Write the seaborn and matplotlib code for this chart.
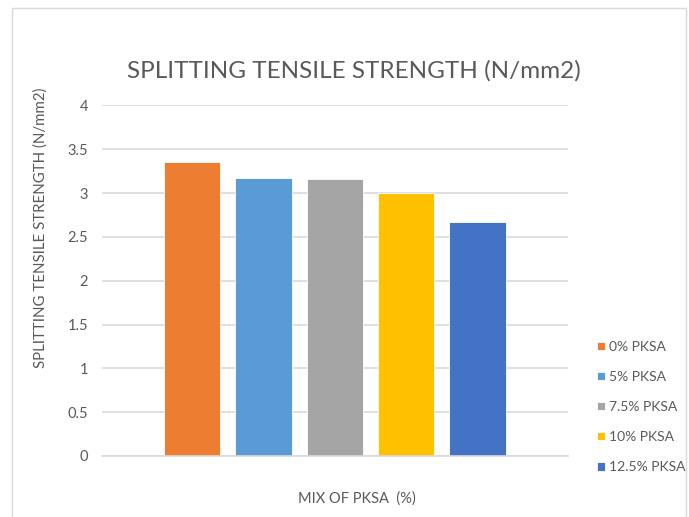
import matplotlib
matplotlib.use("Agg")
import matplotlib.pyplot as plt
from matplotlib.patches import Rectangle
import seaborn as sns
import pandas as pd

# Splitting tensile strength by PKSA replacement level
mixes = ["0% PKSA", "5% PKSA", "7.5% PKSA", "10% PKSA", "12.5% PKSA"]
strength = [3.36, 3.17, 3.16, 3.00, 2.67]
colors = ["#ED7D31", "#5B9BD5", "#A5A5A5", "#FFC000", "#4472C4"]
yticks = [0, 0.5, 1, 1.5, 2, 2.5, 3, 3.5, 4]
ytick_labels = ["0", "0.5", "1", "1.5", "2", "2.5", "3", "3.5", "4"]

df = pd.DataFrame({"group": [""] * len(mixes), "mix": mixes, "strength": strength})

sns.set_theme(style="white")
plt.rcParams["font.family"] = ["Lato", "DejaVu Sans"]

fig = plt.figure(figsize=(6.89, 5.17), dpi=100)
ax = fig.add_axes([0.148, 0.118, 0.676, 0.678])

sns.barplot(data=df, x="group", y="strength", hue="mix", hue_order=mixes,
            palette=colors, width=0.765, gap=0.21, saturation=1,
            edgecolor="white", linewidth=0.6, legend=True, ax=ax)

ax.set_xlim(-0.5, 0.5)
ax.set_ylim(0, 4)
ax.set_yticks(yticks)
ax.set_yticklabels(ytick_labels)
ax.yaxis.grid(True, color="#D9D9D9", linewidth=1.2)
ax.set_axisbelow(True)
for s in ["top", "right", "left"]:
    ax.spines[s].set_visible(False)
ax.spines["bottom"].set_color("#D9D9D9")
ax.spines["bottom"].set_linewidth(1.2)
ax.tick_params(axis="y", length=0, pad=10, labelsize=10.5, labelcolor="#595959")
ax.tick_params(axis="x", length=0, labelbottom=False)

ax.set_xlabel("MIX OF PKSA  (%)", fontsize=10.5, color="#595959")
ax.set_ylabel("SPLITTING TENSILE STRENGTH (N/mm2)", fontsize=10.8, color="#595959")
ax.yaxis.set_label_coords(-0.116, 0.652)
ax.xaxis.set_label_coords(0.547, -0.102)

fig.text(0.513, 0.863, "SPLITTING TENSILE STRENGTH (N/mm2)", ha="center", va="center",
         fontsize=17.5, color="#595959")

leg = ax.legend(loc="center left", bbox_to_anchor=(1.035, 0.14), frameon=False,
                fontsize=10, labelcolor="#595959", handlelength=0.6, handleheight=0.6,
                handletextpad=0.3, labelspacing=1.3)

# outer chart frame
fig.patches.append(Rectangle((12 / 689, -0.01), (686 - 12) / 689, 1 - 8 / 517 + 0.01,
                             transform=fig.transFigure, fill=False,
                             edgecolor="#D9D9D9", linewidth=1.0))

fig.savefig("out.png", dpi=100)
